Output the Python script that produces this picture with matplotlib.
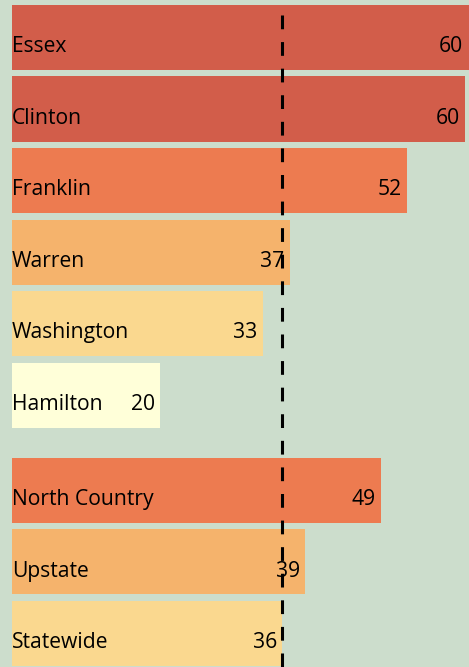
import matplotlib
matplotlib.use("Agg")
import matplotlib.pyplot as plt

# data
regions = ["Essex", "Clinton", "Franklin", "Warren", "Washington", "Hamilton",
           "North Country", "Upstate", "Statewide"]
values = [60.5, 60.0, 52.3, 36.8, 33.2, 19.6, 48.9, 38.8, 35.8]
colors = ["#D25D4A", "#D25D4A", "#ED7B50", "#F5B36C", "#FAD88F", "#FFFFD9",
          "#ED7B50", "#F5B36C", "#FAD88F"]
# counties first, then a small gap before the aggregate rows
positions = [0, 1, 2, 3, 4, 5, 6.33, 7.33, 8.33]
reference = values[regions.index("Statewide")]

bg = "#CCDDCC"
plt.rcParams['font.family'] = ['Open Sans', 'DejaVu Sans']

fig = plt.figure(figsize=(4.69, 6.67), dpi=100)
fig.patch.set_facecolor(bg)
ax = fig.add_axes([0, 0, 1, 1])
ax.set_facecolor(bg)

ax.barh(positions, values, height=0.91, color=colors, left=0)

for y, name, v in zip(positions, regions, values):
    ax.text(0, y + 0.207, name, ha='left', va='baseline', fontsize=15.2, color='black')
    ax.text(v - 0.7, y + 0.207, f"{v:.0f}", ha='right', va='baseline',
            fontsize=15.2, color='black')

ax.plot([reference, reference], [-0.31, 8.9], color='black', lw=2.2,
        dashes=(4.5, 4.2), solid_capstyle='butt')

ax.set_xlim(-12 / 7.55, 457 / 7.55)
ax.set_ylim(8.80, -0.524)
ax.axis('off')

fig.savefig("out.png", dpi=100, facecolor=bg)
